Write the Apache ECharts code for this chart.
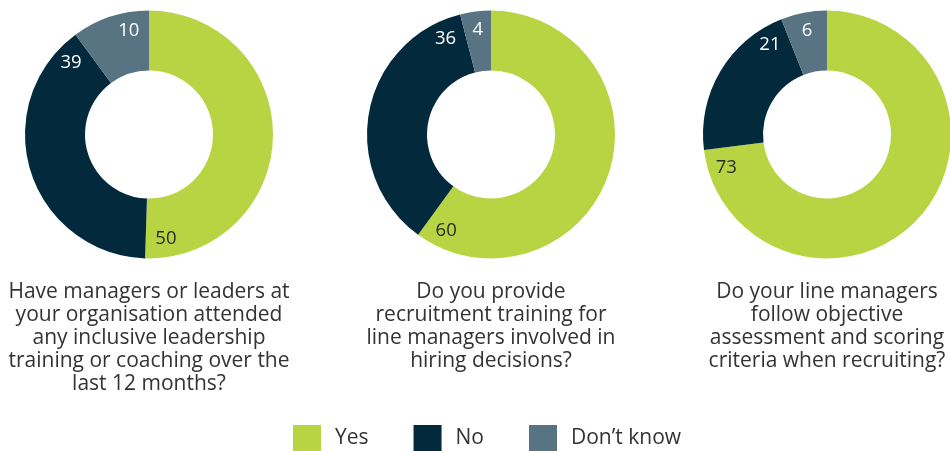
<!DOCTYPE html>
<html>
<head>
<meta charset="utf-8">
<title>Inclusive recruitment and leadership</title>
<script src="https://cdn.jsdelivr.net/npm/echarts@6/dist/echarts.min.js"></script>
<style>
  html, body { margin: 0; padding: 0; background: #ffffff; }
  #chart { width: 950px; height: 451px; }
</style>
</head>
<body>
<div id="chart"></div>
<script>
// Answer categories (legend order and slice order, clockwise from 12 o'clock)
const categories = ['Yes', 'No', 'Don\u2019t know'];

// Responses per question
const leadershipTraining = [50, 39, 10];
const recruitmentTraining = [60, 36, 4];
const objectiveCriteria = [73, 21, 6];

// Question captions drawn under each donut
const questions = [
  'Have managers or leaders at\nyour organisation attended\nany inclusive leadership\ntraining or coaching over the\nlast 12 months?',
  'Do you provide\nrecruitment training for\nline managers involved in\nhiring decisions?',
  'Do your line managers\nfollow objective\nassessment and scoring\ncriteria when recruiting?'
];

const colors = ['#B9D443', '#03293C', '#587482'];
const labelColors = ['#2b2b2b', '#ffffff', '#ffffff'];
const FONT = '"Open Sans", Lato, sans-serif';

const donutCenters = [[149, 134.5], [491, 134.5], [827, 134.5]];
const innerR = 64, outerR = 124;

const chart = echarts.init(document.getElementById('chart'), null, { renderer: 'canvas' });

// Labels sit inside the ring, just before each slice's clockwise end.
function labelAnchor(values, idx, center) {
  const total = values.reduce((a, b) => a + b, 0);
  let cum = 0;
  for (let i = 0; i <= idx; i++) cum += values[i];
  const startDeg = -90 + (cum - values[idx]) / total * 360;
  const endDeg = -90 + cum / total * 360;
  const back = Math.min(11, (endDeg - startDeg) / 2);
  const a = (endDeg - back) * Math.PI / 180;
  const rr = innerR + 0.7 * (outerR - innerR);
  return { x: center[0] + rr * Math.cos(a), y: center[1] + rr * Math.sin(a) };
}

const seriesValues = [leadershipTraining, recruitmentTraining, objectiveCriteria];

const series = seriesValues.map((values, s) => ({
  type: 'pie',
  name: 'q' + (s + 1),
  center: donutCenters[s],
  radius: [innerR, outerR],
  startAngle: 90,
  clockwise: true,
  silent: true,
  avoidLabelOverlap: false,
  labelLine: { show: false },
  itemStyle: { borderWidth: 0 },
  label: {
    show: true,
    position: 'inside',
    formatter: '{c}',
    fontFamily: FONT,
    fontSize: 18.5,
    align: 'center',
    verticalAlign: 'middle'
  },
  labelLayout: (params) => {
    const p = labelAnchor(values, params.dataIndex, donutCenters[s]);
    return { x: p.x, y: p.y, align: 'center', verticalAlign: 'middle' };
  },
  data: categories.map((name, i) => ({
    name: name,
    value: values[i],
    itemStyle: { color: colors[i] },
    label: { color: labelColors[i] }
  }))
}));

const option = {
  animation: false,
  color: colors,
  title: questions.map((q, i) => ({
    text: q,
    left: donutCenters[i][0],
    top: 281,
    textAlign: 'center',
    padding: 0,
    textStyle: {
      fontFamily: FONT,
      fontSize: 21,
      fontWeight: 'normal',
      color: '#333333',
      lineHeight: 23
    }
  })),
  legend: {
    data: categories,
    left: 293,
    top: 425,
    padding: 0,
    icon: 'rect',
    itemWidth: 28,
    itemHeight: 27,
    itemGap: 45,
    selectedMode: false,
    textStyle: {
      fontFamily: FONT,
      fontSize: 21,
      color: '#333333',
      padding: [0, 0, 0, 9]
    }
  },
  series: series
};

chart.setOption(option);
</script>
</body>
</html>
